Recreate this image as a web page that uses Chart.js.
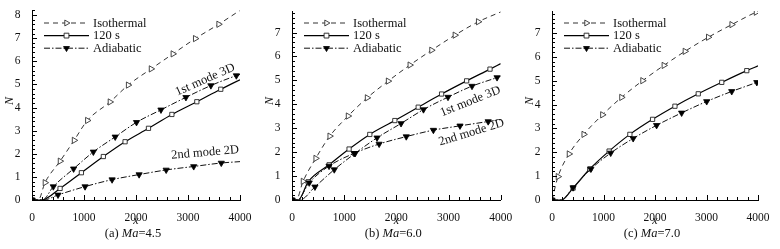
<!DOCTYPE html>
<html>
<head>
<meta charset="utf-8">
<script src="https://cdn.jsdelivr.net/npm/chart.js@4.4.1/dist/chart.umd.min.js"></script>
<style>
  body { margin: 0; background: #fff; }
  #wrap { position: relative; width: 780px; height: 249px; background: #fff; }
  #wrap canvas { position: absolute; top: 0; }
  #probe { position: absolute; left: -999px; top: 0; font-family: "Liberation Serif"; }
</style>
</head>
<body>
<div id="wrap">
  <canvas id="chartA" width="260" height="249" style="left:0"></canvas>
  <canvas id="chartB" width="260" height="249" style="left:260px"></canvas>
  <canvas id="chartC" width="260" height="249" style="left:520px"></canvas>
</div>
<span id="probe">Isothermal <i>Ma</i> 0123456789</span>
<script>
// tick labels
const xTicks = [0, 1000, 2000, 3000, 4000];
const nTicksA = [0, 1, 2, 3, 4, 5, 6, 7, 8];
const nTicksBC = [0, 1, 2, 3, 4, 5, 6, 7];

// (a) Ma=4.5
const isoA_x = [0, 120, 250, 540, 810, 1065, 1500, 1850, 2290, 2710, 3140, 3590, 4000];
const isoA_N = [0, 0, 0.75, 1.68, 2.58, 3.44, 4.24, 4.97, 5.67, 6.32, 6.98, 7.6, 8.2];
const s120A_x = [0, 180, 540, 950, 1372, 1790, 2240, 2690, 3170, 3630, 4000];
const s120A_N = [0, 0, 0.5, 1.18, 1.88, 2.52, 3.1, 3.7, 4.25, 4.79, 5.2];
const adi1A_x = [0, 200, 410, 800, 1180, 1600, 2010, 2480, 2960, 3440, 3930, 4000];
const adi1A_N = [0, 0, 0.58, 1.35, 2.08, 2.73, 3.36, 3.9, 4.44, 4.95, 5.38, 5.43];
const adi2A_x = [0, 220, 500, 1020, 1540, 2060, 2580, 3110, 3640, 4000];
const adi2A_N = [0, 0, 0.22, 0.58, 0.88, 1.1, 1.3, 1.45, 1.6, 1.66];

// (b) Ma=6.0
const isoB_x = [0, 80, 212, 455, 724, 1075, 1440, 1843, 2259, 2675, 3123, 3570, 4000];
const isoB_N = [0, 0, 0.78, 1.74, 2.67, 3.51, 4.27, 4.97, 5.64, 6.26, 6.89, 7.45, 7.86];
const s120B_x = [0, 120, 310, 711, 1094, 1491, 1971, 2419, 2867, 3347, 3795, 4000];
const s120B_N = [0, 0, 0.76, 1.47, 2.13, 2.74, 3.32, 3.88, 4.43, 4.98, 5.47, 5.7];
const adi1B_x = [0, 150, 440, 810, 1210, 1630, 2090, 2520, 2990, 3450, 3930, 4000];
const adi1B_N = [0, 0, 0.55, 1.27, 1.95, 2.6, 3.2, 3.78, 4.3, 4.76, 5.12, 5.18];
const adi2B_x = [0, 100, 330, 710, 1190, 1670, 2190, 2710, 3220, 3760, 4000];
const adi2B_N = [0, 0, 0.72, 1.42, 1.95, 2.34, 2.65, 2.92, 3.1, 3.28, 3.36];

// (c) Ma=7.0
const isoC_x = [0, 117, 331, 617, 980, 1350, 1759, 2173, 2582, 3035, 3490, 3963, 4000];
const isoC_N = [0, 0.98, 1.93, 2.75, 3.57, 4.3, 5.0, 5.64, 6.23, 6.82, 7.35, 7.87, 7.9];
const s120C_x = [0, 180, 409, 733, 1109, 1512, 1953, 2387, 2840, 3296, 3782, 4000];
const s120C_N = [0, 0, 0.5, 1.3, 2.05, 2.75, 3.38, 3.93, 4.45, 4.93, 5.42, 5.62];
const adiC_x = [0, 180, 409, 755, 1140, 1576, 2031, 2517, 3004, 3490, 3977, 4000];
const adiC_N = [0, 0, 0.52, 1.3, 1.97, 2.58, 3.13, 3.65, 4.13, 4.55, 4.93, 4.95];

const serif = "Liberation Serif";

function pts(xs, ns) {
  return xs.map((x, i) => ({ x: x, y: ns[i] }));
}

// no symbol on the onset point (on the axis) and on the last point
function symbolRadius(r) {
  return function (ctx) {
    const d = ctx.raw;
    if (!d) return 0;
    if ((d.y === 0 && d.x > 0) || ctx.dataIndex === ctx.dataset.data.length - 1) return 0;
    return r;
  };
}

function isoSet(xs, ns) {
  return {
    label: "Isothermal", data: pts(xs, ns), order: 2,
    borderColor: "#333", borderWidth: 1, borderDash: [5, 4],
    pointStyle: "triangle", pointRotation: 90, pointRadius: symbolRadius(3.6),
    pointBackgroundColor: "#fff", pointBorderColor: "#333", pointBorderWidth: 0.9,
  };
}
function s120Set(xs, ns) {
  return {
    label: "120 s", data: pts(xs, ns), order: 1,
    borderColor: "#000", borderWidth: 1.2,
    pointStyle: "rect", pointRadius: symbolRadius(3),
    pointBackgroundColor: "#fff", pointBorderColor: "#222", pointBorderWidth: 0.9,
  };
}
function adiSet(xs, ns) {
  return {
    label: "Adiabatic", data: pts(xs, ns), order: 0,
    borderColor: "#111", borderWidth: 1, borderDash: [6, 2, 1.5, 2],
    pointStyle: "triangle", pointRotation: 180, pointRadius: symbolRadius(3.6),
    pointBackgroundColor: "#000", pointBorderColor: "#000", pointBorderWidth: 0.8,
  };
}

// inward major/minor ticks, legend, axis letters, notes and caption
const decor = {
  id: "decor",
  afterDraw(chart, args, o) {
    const ctx = chart.ctx;
    const a = chart.chartArea;
    const x = chart.scales.x, y = chart.scales.y;
    ctx.save();

    // ticks
    ctx.strokeStyle = "#000";
    ctx.lineWidth = 1;
    ctx.setLineDash([]);
    ctx.beginPath();
    for (let i = 0; i * 200 <= 4000; i++) {
      const px = Math.round(x.getPixelForValue(i * 200)) + 0.5;
      const len = i % 5 === 0 ? 5 : 3;
      ctx.moveTo(px, a.bottom);
      ctx.lineTo(px, a.bottom - len);
    }
    for (let i = 0; i * 0.2 <= y.max + 1e-6; i++) {
      const py = Math.round(y.getPixelForValue(i * 0.2)) + 0.5;
      const len = i % 5 === 0 ? 5 : 3;
      ctx.moveTo(a.left, py);
      ctx.lineTo(a.left + len, py);
    }
    ctx.stroke();

    // legend
    const seen = {};
    let row = 0;
    chart.data.datasets.forEach(function (ds) {
      if (seen[ds.label]) return;
      seen[ds.label] = true;
      const ly = 23 + row * 12.6;
      const x0 = a.left + 12, x1 = a.left + 57;
      ctx.strokeStyle = ds.borderColor;
      ctx.lineWidth = ds.borderWidth;
      ctx.setLineDash(ds.borderDash || []);
      ctx.beginPath();
      ctx.moveTo(x0, ly);
      ctx.lineTo(x1, ly);
      ctx.stroke();
      ctx.setLineDash([]);
      ctx.fillStyle = ds.pointBackgroundColor;
      ctx.strokeStyle = ds.pointBorderColor;
      ctx.lineWidth = ds.pointBorderWidth;
      Chart.helpers.drawPoint(ctx, {
        pointStyle: ds.pointStyle, rotation: ds.pointRotation || 0,
        radius: 3.4, borderWidth: ds.pointBorderWidth,
      }, (x0 + x1) / 2, ly);
      ctx.fillStyle = "#111";
      ctx.font = '12.5px "' + serif + '"';
      ctx.textAlign = "left";
      ctx.textBaseline = "middle";
      ctx.fillText(ds.label, a.left + 61, ly + 0.5);
      row++;
    });

    // axis letters
    ctx.fillStyle = "#111";
    ctx.font = 'italic 12px "' + serif + '"';
    ctx.textAlign = "center";
    ctx.textBaseline = "middle";
    ctx.fillText("x", (a.left + a.right) / 2, 221);
    ctx.save();
    ctx.translate(a.left - 22, 101);
    ctx.rotate(-Math.PI / 2);
    ctx.fillText("N", 0, 0);
    ctx.restore();

    // curve notes
    ctx.font = '12.5px "' + serif + '"';
    o.notes.forEach(function (n) {
      ctx.save();
      ctx.translate(x.getPixelForValue(n.x), y.getPixelForValue(n.y));
      ctx.rotate(n.angle * Math.PI / 180);
      ctx.fillText(n.text, 0, 0);
      ctx.restore();
    });

    // caption: "(a) Ma=4.5" with Ma in italics
    const parts = [
      { t: o.tag + " ", f: '12.5px "' + serif + '"' },
      { t: "Ma", f: 'italic 12.5px "' + serif + '"' },
      { t: "=" + o.ma, f: '12.5px "' + serif + '"' },
    ];
    let w = 0;
    parts.forEach(function (p) { ctx.font = p.f; w += ctx.measureText(p.t).width; });
    let cx = (a.left + a.right) / 2 - 3 - w / 2;
    ctx.textAlign = "left";
    parts.forEach(function (p) {
      ctx.font = p.f;
      ctx.fillText(p.t, cx, 234);
      cx += ctx.measureText(p.t).width;
    });
    ctx.restore();
  },
};

function makeChart(id, datasets, yMax, nTicks, padTop, padRight, tag, ma, notes) {
  const ctx = document.getElementById(id).getContext("2d");
  return new Chart(ctx, {
    type: "line",
    data: { datasets: datasets },
    options: {
      responsive: false,
      animation: false,
      events: [],
      layout: { padding: { left: 0, right: padRight, top: padTop, bottom: 0 } },
      elements: { line: { cubicInterpolationMode: "monotone" } },
      scales: {
        x: {
          type: "linear", min: 0, max: 4000,
          afterBuildTicks: function (s) { s.ticks = xTicks.map(function (v) { return { value: v }; }); },
          afterFit: function (s) { s.height = 49; },
          grid: { display: false },
          border: { display: true, color: "#000", width: 1 },
          ticks: {
            color: "#111", padding: 3, maxRotation: 0, autoSkip: false,
            font: { family: serif, size: 11.5 },
            callback: function (v) { return String(v); },
          },
        },
        y: {
          type: "linear", min: 0, max: yMax,
          afterBuildTicks: function (s) { s.ticks = nTicks.map(function (v) { return { value: v }; }); },
          afterFit: function (s) { s.width = 32; },
          grid: { display: false },
          border: { display: true, color: "#000", width: 1 },
          ticks: {
            color: "#111", padding: 3.5, autoSkip: false,
            font: { family: serif, size: 11.5 },
            callback: function (v) { return String(v); },
          },
        },
      },
      plugins: {
        legend: { display: false },
        tooltip: { enabled: false },
        decor: { tag: tag, ma: ma, notes: notes },
      },
    },
    plugins: [decor],
  });
}

function drawAll() {
  makeChart("chartA",
    [isoSet(isoA_x, isoA_N), s120Set(s120A_x, s120A_N), adiSet(adi1A_x, adi1A_N), adiSet(adi2A_x, adi2A_N)],
    8.2, nTicksA, 10, 20, "(a)", "4.5",
    [{ text: "1st mode 3D", x: 3330, y: 5.2, angle: -24 },
     { text: "2nd mode 2D", x: 3330, y: 2.05, angle: -5 }]);

  makeChart("chartB",
    [isoSet(isoB_x, isoB_N), s120Set(s120B_x, s120B_N), adiSet(adi1B_x, adi1B_N), adiSet(adi2B_x, adi2B_N)],
    7.9, nTicksBC, 11, 19.3, "(b)", "6.0",
    [{ text: "1st mode 3D", x: 3420, y: 4.12, angle: -22 },
     { text: "2nd mode 2D", x: 3440, y: 2.82, angle: -17 }]);

  makeChart("chartC",
    [isoSet(isoC_x, isoC_N), s120Set(s120C_x, s120C_N), adiSet(adiC_x, adiC_N)],
    7.92, nTicksBC, 11, 22, "(c)", "7.0",
    []);
}

document.addEventListener("DOMContentLoaded", function () {
  Promise.all([
    document.fonts.load('12px "Liberation Serif"'),
    document.fonts.load('italic 12px "Liberation Serif"'),
  ]).then(drawAll, drawAll);
});
</script>
</body>
</html>
